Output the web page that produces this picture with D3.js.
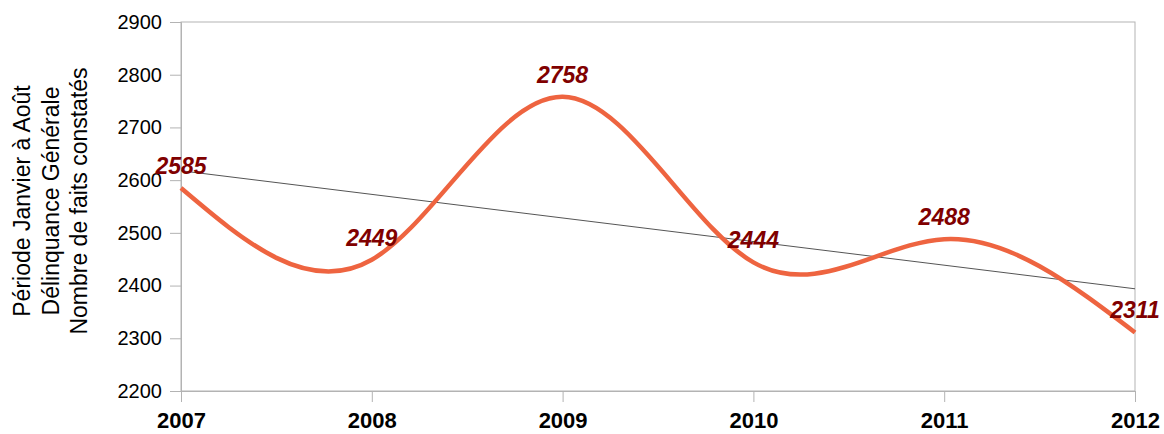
<!DOCTYPE html>
<html>
<head>
<meta charset="utf-8">
<script src="https://cdn.jsdelivr.net/npm/d3@7"></script>
<style>
  body { margin: 0; background: #fff; }
  svg text { font-family: "Liberation Sans", Arial, sans-serif; }
</style>
</head>
<body>
<div id="chart"></div>
<script>
// data
var years = [2007, 2008, 2009, 2010, 2011, 2012];
var values = [2585, 2449, 2758, 2444, 2488, 2311];
var yTicks = [2200, 2300, 2400, 2500, 2600, 2700, 2800, 2900];
var titleLines = ["Période Janvier à Août", "Délinquance Générale", "Nombre de faits constatés"];

var W = 1164, H = 434;
var m = {left: 181, right: 29, top: 22, bottom: 43};
var iw = W - m.left - m.right, ih = H - m.top - m.bottom;

var svg = d3.select("#chart").append("svg").attr("width", W).attr("height", H);
var g = svg.append("g").attr("transform", "translate(" + m.left + "," + m.top + ")");

var x = d3.scaleLinear().domain([2007, 2012]).range([0, iw]);
var y = d3.scaleLinear().domain([2200, 2900]).range([ih, 0]);

// frame
g.append("rect").attr("width", iw).attr("height", ih)
    .attr("fill", "none").attr("stroke", "#b3b3b3").attr("stroke-width", 1);

// y axis
var ya = g.append("g").call(d3.axisLeft(y).tickValues(yTicks).tickSize(11).tickPadding(8).tickFormat(d3.format("d")));
ya.select(".domain").attr("stroke", "#b3b3b3");
ya.selectAll(".tick line").attr("stroke", "#b3b3b3");
ya.selectAll("text").attr("font-size", "20px").attr("fill", "#000")
    .style("font-family", "'Liberation Sans', Arial, sans-serif");

// x axis
var xa = g.append("g").attr("transform", "translate(0," + ih + ")")
    .call(d3.axisBottom(x).tickValues(years).tickSize(11).tickPadding(10).tickFormat(d3.format("d")));
xa.select(".domain").attr("stroke", "#b3b3b3");
xa.selectAll(".tick line").attr("stroke", "#b3b3b3");
xa.selectAll("text").attr("font-size", "22px").attr("font-weight", "bold").attr("fill", "#000")
    .style("font-family", "'Liberation Sans', Arial, sans-serif");

// y title
var tt = svg.append("text").attr("transform", "translate(30,201) rotate(-90)")
    .attr("text-anchor", "middle").attr("font-size", "23px").attr("fill", "#000");
tt.selectAll("tspan").data(titleLines).enter().append("tspan")
    .attr("x", 0).attr("dy", function(d, i) { return i == 0 ? 0 : 28.5; })
    .text(function(d) { return d; });

// linear trend
var n = years.length;
var mx = d3.mean(years), my = d3.mean(values);
var sxy = d3.sum(years, function(d, i) { return (d - mx) * (values[i] - my); });
var sxx = d3.sum(years, function(d) { return (d - mx) * (d - mx); });
var slope = sxy / sxx, icpt = my - slope * mx;
g.append("line")
    .attr("x1", x(years[0])).attr("y1", y(icpt + slope * years[0]))
    .attr("x2", x(years[n - 1])).attr("y2", y(icpt + slope * years[n - 1]))
    .attr("stroke", "#555").attr("stroke-width", 1);

// smoothed series
var line = d3.line().curve(d3.curveNatural)
    .x(function(d, i) { return x(years[i]); })
    .y(function(d) { return y(d); });
g.append("path").datum(values).attr("d", line)
    .attr("fill", "none").attr("stroke", "#ee6440").attr("stroke-width", 4.5);

// value labels
g.selectAll(".lbl").data(values).enter().append("text").attr("class", "lbl")
    .attr("x", function(d, i) { return x(years[i]); })
    .attr("y", function(d) { return y(d) - 14; })
    .attr("text-anchor", "middle")
    .attr("font-size", "23px").attr("font-weight", "bold").attr("font-style", "italic")
    .attr("fill", "#800000")
    .text(function(d) { return d; });
</script>
</body>
</html>
